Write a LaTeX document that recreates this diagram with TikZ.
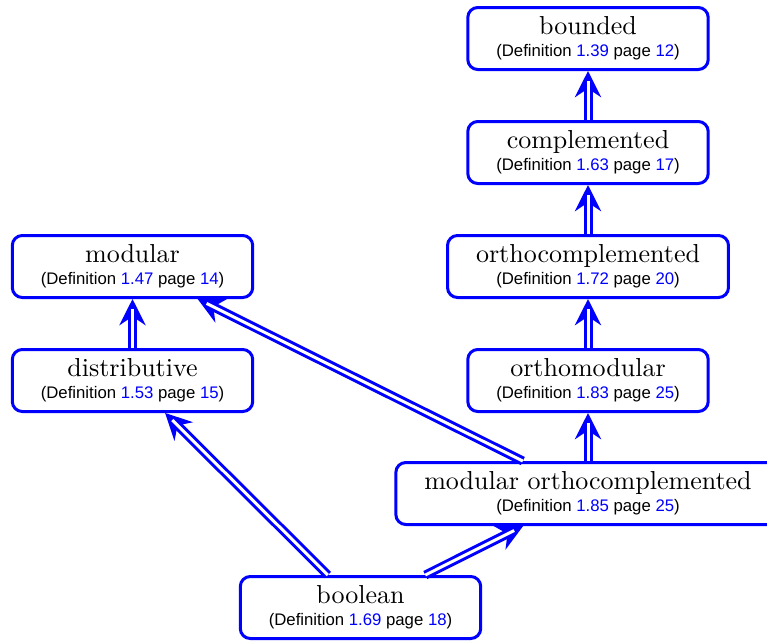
\documentclass[tikz,border=0pt]{standalone}
\usepackage{fontspec}
\usepackage{xcolor}
\newfontfamily\defnfont{Liberation Sans}
\usetikzlibrary{arrows.meta}
\newcommand{\defref}[2]{{\defnfont\fontsize{6.7}{8}\selectfont (Definition \textcolor{blue}{#1} page \textcolor{blue}{#2})}}

\begin{document}
\begin{tikzpicture}[x=0.4pt,y=-0.4pt,
  box/.style={draw=blue, line width=1.2pt, rounded corners=4pt,
    minimum width=95.6pt, minimum height=24.8pt, inner xsep=11.4pt,
    align=center, font=\fontsize{10.4}{12.2}\selectfont},
  imp/.style={draw=blue, line width=1.2pt,
    -{Stealth[length=10.5pt,width=10.5pt,inset=3.5pt]},
    postaction={draw=blue, arrows=-, double=white, double distance=1.2pt,
      shorten >=4pt}}]
\useasboundingbox (0,0) rectangle (767,641);

% Lattice classes
\node[box] (bounded) at (588,38.5) {bounded\\[-3.5pt]\defref{1.39}{12}};
\node[box] (complemented) at (588,152.5) {complemented\\[-3.5pt]\defref{1.63}{17}};
\node[box] (orthocompl) at (588,266.5) {orthocomplemented\\[-3.5pt]\defref{1.72}{20}};
\node[box] (orthomod) at (588,380.5) {orthomodular\\[-3.5pt]\defref{1.83}{25}};
\node[box] (modorth) at (588,493.5) {modular orthocomplemented\\[-3.5pt]\defref{1.85}{25}};
\node[box] (modular) at (132.5,266.5) {modular\\[-3.5pt]\defref{1.47}{14}};
\node[box] (distrib) at (132.5,380.5) {distributive\\[-3.5pt]\defref{1.53}{15}};
\node[box] (boolean) at (360.5,607.5) {boolean\\[-3.5pt]\defref{1.69}{18}};

% Implications
\foreach \a/\b in {complemented/bounded, orthocompl/complemented,
    orthomod/orthocompl, modorth/orthomod, modorth/modular,
    distrib/modular, boolean/distrib, boolean/modorth}
  \draw[imp] (\a) -- (\b);
\end{tikzpicture}
\end{document}
